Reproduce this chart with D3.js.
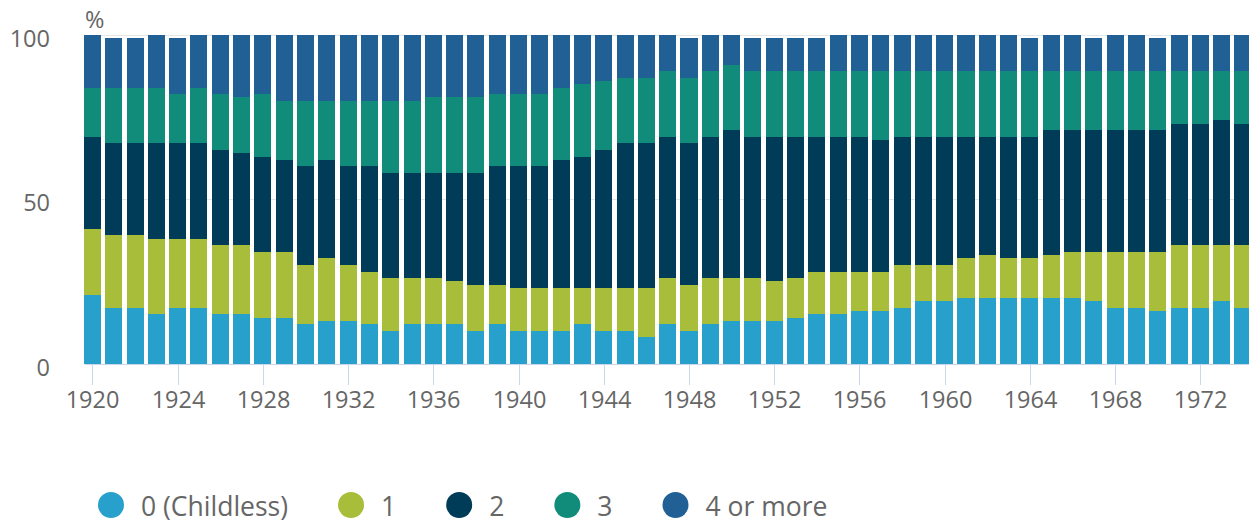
<!DOCTYPE html>
<html>
<head>
<meta charset="utf-8">
<script src="https://cdn.jsdelivr.net/npm/d3@7"></script>
<style>
  html, body { margin: 0; padding: 0; background: #fff; overflow: hidden; }
  text { font-family: "Open Sans", "Noto Sans", sans-serif; fill: #666; }
</style>
</head>
<body>
<div id="chart"></div>
<script>
// birth cohort years
var years = d3.range(1920, 1975);

// percentage of women by number of children
var childless = [21,17,17,15,17,17,15,15,14,14,12,13,13,12,10,12,12,12,10,12,10,10,10,12,10,10,8,12,10,12,13,13,13,14,15,15,16,16,17,19,19,20,20,20,20,20,20,19,17,17,16,17,17,19,17];
var one       = [20,22,22,23,21,21,21,21,20,20,18,19,17,16,16,14,14,13,14,12,13,13,13,11,13,13,15,14,14,14,13,13,12,12,13,13,12,12,13,11,11,12,13,12,12,13,14,15,17,17,18,19,19,17,19];
var two       = [28,28,28,29,29,29,29,28,29,28,30,30,30,32,32,32,32,33,34,36,37,37,39,40,42,44,44,43,43,43,45,43,44,43,41,41,41,40,39,39,39,37,36,37,37,38,37,37,37,37,37,37,37,38,37];
var three     = [15,17,17,17,15,17,17,17,19,18,20,18,20,20,22,22,23,23,23,22,22,22,22,22,21,20,20,20,20,20,20,20,20,20,20,20,20,21,20,20,20,20,20,20,20,18,18,18,18,18,18,16,16,15,16];
var fourPlus  = [16,15,15,16,17,16,18,19,18,20,20,20,20,20,20,20,19,19,19,18,18,18,16,15,14,13,13,11,12,11,9,10,10,10,10,11,11,11,11,11,11,11,11,11,10,11,11,10,11,11,10,11,11,11,11];

var seriesNames = ["0 (Childless)", "1", "2", "3", "4 or more"];
var seriesColors = ["#27a0cc", "#a8bd3a", "#003c57", "#118c7b", "#206095"];
var yTicks = [0, 50, 100];
var xTicks = d3.range(1920, 1975, 4);

var Chart = (function(){
    function Chart(target){
        this.target = target;
        this.width = 1249;
        this.height = 522;
        this.init();
    }
    return Chart;
})();

var ch = Chart.prototype;

ch.init = function(){
    this.svg = d3.select(this.target)
    .append("svg")
    .attr("width", this.width)
    .attr("height", this.height);

    var step = 21.23, pad = 0.2;
    var r0 = 94.5 - step * (1 + pad) / 2;
    this.x = d3.scaleBand()
    .domain(years)
    .range([r0, r0 + step * (years.length + pad)])
    .paddingInner(pad)
    .paddingOuter(pad / 2);

    this.y = d3.scaleLinear()
    .domain([0, 100])
    .range([363.5, 35]);

    this.setGrid();
    this.setBars();
    this.setAxes();
    this.setLegend();
}

ch.setGrid = function(){
    var y = this.y;
    this.svg.append("g")
    .selectAll("line")
    .data(yTicks.filter(function(d){ return d > 0; }))
    .enter().append("line")
    .attr("x1", 85)
    .attr("x2", this.width)
    .attr("y1", function(d){ return Math.round(y(d)) + 0.5; })
    .attr("y2", function(d){ return Math.round(y(d)) + 0.5; })
    .attr("stroke", "#e6e6e6")
    .attr("stroke-width", 1);
}

ch.setBars = function(){
    var x = this.x, y = this.y;
    var rows = years.map(function(yr, i){
        return { year: yr, 0: childless[i], 1: one[i], 2: two[i], 3: three[i], 4: fourPlus[i] };
    });
    var stack = d3.stack().keys([0, 1, 2, 3, 4]);
    var layers = stack(rows);

    this.svg.append("g")
    .selectAll("g")
    .data(layers)
    .enter().append("g")
    .attr("fill", function(d, i){ return seriesColors[i]; })
    .selectAll("rect")
    .data(function(d){ return d; })
    .enter().append("rect")
    .attr("x", function(d){ return Math.round(x(d.data.year)); })
    .attr("width", function(d){ return Math.round(x(d.data.year) + x.bandwidth()) - Math.round(x(d.data.year)); })
    .attr("y", function(d){ return Math.round(y(d[1])); })
    .attr("height", function(d){ return Math.round(y(d[0])) - Math.round(y(d[1])); });
}

ch.setAxes = function(){
    var x = this.x, y = this.y;
    var ax = this.svg.append("g");

    ax.append("line")
    .attr("x1", 85).attr("x2", this.width)
    .attr("y1", 364.5).attr("y2", 364.5)
    .attr("stroke", "#ccd6eb");

    var tk = ax.selectAll(".xtick")
    .data(xTicks)
    .enter().append("g")
    .attr("class", "xtick")
    .attr("transform", function(d){ return "translate(" + (Math.round(x(d) + x.bandwidth() / 2) + 0.5) + ",0)"; });
    tk.append("line")
    .attr("y1", 364).attr("y2", 385)
    .attr("stroke", "#ccd6eb");
    tk.append("text")
    .attr("y", 408)
    .attr("text-anchor", "middle")
    .style("font-size", "23.5px")
    .text(function(d){ return d; });

    ax.selectAll(".ylab")
    .data(yTicks)
    .enter().append("text")
    .attr("class", "ylab")
    .attr("x", 50)
    .attr("y", function(d){ return y(d) + 12; })
    .attr("text-anchor", "end")
    .style("font-size", "23.5px")
    .text(function(d){ return d; });

    ax.append("text")
    .attr("x", 85)
    .attr("y", 28)
    .style("font-size", "23.5px")
    .text("%");
}

ch.setLegend = function(){
    var g = this.svg.append("g");
    var cursor = 98, r = 13;
    seriesNames.forEach(function(name, i){
        g.append("circle")
        .attr("cx", cursor + r)
        .attr("cy", 505)
        .attr("r", r)
        .attr("fill", seriesColors[i]);
        var t = g.append("text")
        .attr("x", cursor + 2 * r + 17)
        .attr("y", 515.5)
        .style("font-size", "26.5px")
        .text(name);
        var w = t.node().getComputedTextLength();
        cursor = cursor + 2 * r + 17 + w + 50;
    });
}

new Chart("#chart");
</script>
</body>
</html>
